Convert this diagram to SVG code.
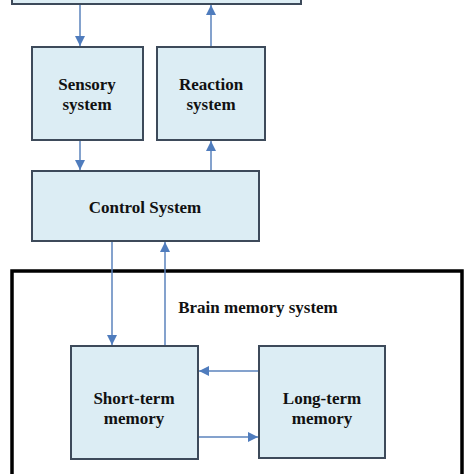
<svg xmlns="http://www.w3.org/2000/svg" width="474" height="474" viewBox="0 0 474 474">
<style>
.box{fill:#dcedf4;stroke:#3d4a5a;stroke-width:2}
.lbl{font-family:"Liberation Serif","Times New Roman",serif;font-weight:bold;font-size:17px;fill:#111;text-anchor:middle}
.con{stroke:#5b83bd;stroke-width:1.5;fill:none}
</style>
<defs>
<marker id="ah" viewBox="0 0 10 10" refX="10" refY="5" markerWidth="10" markerHeight="10" markerUnits="userSpaceOnUse" orient="auto">
<path d="M0,0 L10,5 L0,10 Z" fill="#4f7cbd"/>
</marker>
</defs>
<rect width="474" height="474" fill="#ffffff"/>
<g id="environment"><rect class="box" x="12" y="-40" width="289" height="44"/></g>
<g id="sensory"><rect class="box" x="32" y="47" width="111" height="93"/>
<text class="lbl" x="87" y="90">Sensory</text><text class="lbl" x="87" y="110">system</text></g>
<g id="reaction"><rect class="box" x="157" y="47" width="108" height="93"/>
<text class="lbl" x="211" y="90">Reaction</text><text class="lbl" x="211" y="110">system</text></g>
<g id="control"><rect class="box" x="32" y="171" width="227" height="70"/>
<text class="lbl" x="145" y="213">Control System</text></g>
<g id="brain"><rect x="12" y="271" width="450" height="230" fill="none" stroke="#000" stroke-width="3.5"/>
<text class="lbl" x="258" y="313">Brain memory system</text></g>
<g id="short-term"><rect class="box" x="71" y="346" width="127" height="113"/>
<text class="lbl" x="134" y="404">Short-term</text><text class="lbl" x="134" y="424">memory</text></g>
<g id="long-term"><rect class="box" x="259" y="346" width="126" height="112"/>
<text class="lbl" x="322" y="404">Long-term</text><text class="lbl" x="322" y="424">memory</text></g>
<g id="connectors">
<line class="con" x1="80" y1="5" x2="80" y2="46" marker-end="url(#ah)"/>
<line class="con" x1="211" y1="46" x2="211" y2="5" marker-end="url(#ah)"/>
<line class="con" x1="80" y1="141" x2="80" y2="170" marker-end="url(#ah)"/>
<line class="con" x1="211" y1="170" x2="211" y2="141" marker-end="url(#ah)"/>
<line class="con" x1="112" y1="242" x2="112" y2="345" marker-end="url(#ah)"/>
<line class="con" x1="165" y1="345" x2="165" y2="242" marker-end="url(#ah)"/>
<line class="con" x1="258" y1="371" x2="199" y2="371" marker-end="url(#ah)"/>
<line class="con" x1="199" y1="437" x2="258" y2="437" marker-end="url(#ah)"/>
</g>
</svg>
